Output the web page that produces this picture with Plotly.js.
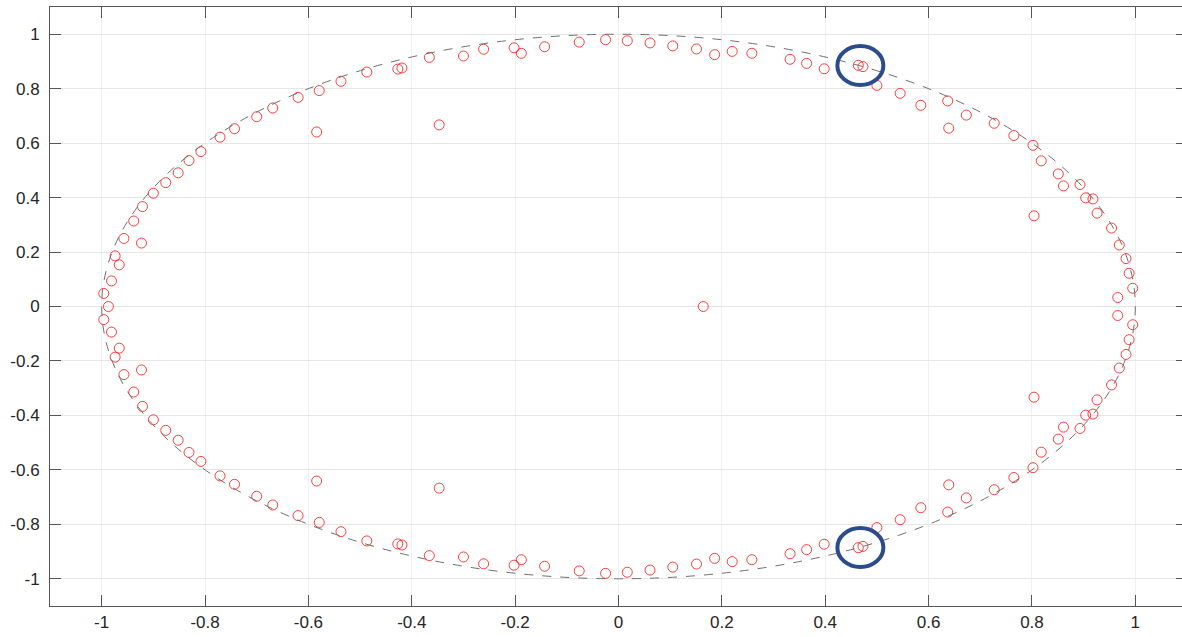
<!DOCTYPE html>
<html>
<head>
<meta charset="utf-8">
<script src="https://cdn.plot.ly/plotly-3.0.1.min.js"></script>
<style>
html, body { margin: 0; padding: 0; overflow: hidden; background: #fff; }
#chart { width: 1200px; height: 637px; }
</style>
</head>
<body>
<div id="chart"></div>
<script>
// Upper half-plane points
const upperX = [-0.996, -0.981, -0.966, -0.974, -0.923, -0.957, -0.938, -0.921, -0.900, -0.876,
  -0.852, -0.831, -0.808, -0.771, -0.743, -0.700, -0.669, -0.620, -0.584, -0.579,
  -0.537, -0.487, -0.427, -0.419, -0.366, -0.347, -0.300, -0.261, -0.202, -0.188,
  -0.143, -0.076, -0.025, 0.017, 0.061, 0.105, 0.151, 0.186, 0.220, 0.258,
  0.332, 0.364, 0.398, 0.464, 0.473, 0.500, 0.545, 0.585, 0.637, 0.639,
  0.673, 0.727, 0.765, 0.802, 0.818, 0.804, 0.851, 0.861, 0.893, 0.904,
  0.918, 0.926, 0.954, 0.969, 0.982, 0.988, 0.995, 0.966];
const upperY = [0.048, 0.094, 0.153, 0.186, 0.233, 0.250, 0.314, 0.367, 0.416, 0.455,
  0.491, 0.536, 0.569, 0.622, 0.653, 0.697, 0.729, 0.768, 0.641, 0.793,
  0.827, 0.861, 0.872, 0.876, 0.915, 0.667, 0.920, 0.945, 0.950, 0.930,
  0.954, 0.971, 0.980, 0.976, 0.968, 0.957, 0.946, 0.925, 0.937, 0.930,
  0.908, 0.893, 0.873, 0.886, 0.881, 0.812, 0.783, 0.739, 0.755, 0.655,
  0.703, 0.673, 0.628, 0.592, 0.535, 0.333, 0.487, 0.443, 0.448, 0.399,
  0.395, 0.343, 0.288, 0.226, 0.176, 0.122, 0.067, 0.033];
// Lower half-plane points
const lowerX = [-0.996, -0.981, -0.966, -0.974, -0.923, -0.957, -0.938, -0.921, -0.900, -0.876,
  -0.852, -0.831, -0.808, -0.771, -0.743, -0.700, -0.669, -0.620, -0.584, -0.579,
  -0.537, -0.487, -0.427, -0.419, -0.366, -0.347, -0.300, -0.261, -0.202, -0.188,
  -0.143, -0.076, -0.025, 0.017, 0.061, 0.105, 0.151, 0.186, 0.220, 0.258,
  0.332, 0.364, 0.398, 0.464, 0.473, 0.500, 0.545, 0.585, 0.637, 0.639,
  0.673, 0.727, 0.765, 0.802, 0.818, 0.804, 0.851, 0.861, 0.893, 0.904,
  0.918, 0.926, 0.954, 0.969, 0.982, 0.988, 0.995, 0.966];
const lowerY = [-0.048, -0.094, -0.153, -0.186, -0.233, -0.250, -0.314, -0.367, -0.416, -0.455,
  -0.491, -0.536, -0.569, -0.622, -0.653, -0.697, -0.729, -0.768, -0.641, -0.793,
  -0.827, -0.861, -0.872, -0.876, -0.915, -0.667, -0.920, -0.945, -0.950, -0.930,
  -0.954, -0.971, -0.980, -0.976, -0.968, -0.957, -0.946, -0.925, -0.937, -0.930,
  -0.908, -0.893, -0.873, -0.886, -0.881, -0.812, -0.783, -0.739, -0.755, -0.655,
  -0.703, -0.673, -0.628, -0.592, -0.535, -0.333, -0.487, -0.443, -0.448, -0.399,
  -0.395, -0.343, -0.288, -0.226, -0.176, -0.122, -0.067, -0.033];
// Real-axis points
const realX = [-0.987, 0.164];
const realY = [0, 0];
// Highlighted pair centres
const markX = [0.468, 0.468];
const markY = [0.885, -0.885];
// Tick labels
const tickVals = [-1, -0.8, -0.6, -0.4, -0.2, 0, 0.2, 0.4, 0.6, 0.8, 1];
const tickText = ['-1', '-0.8', '-0.6', '-0.4', '-0.2', '0', '0.2', '0.4', '0.6', '0.8', '1'];

const markerStyle = {symbol: 'circle-open', size: 10, color: 'rgba(255,0,0,0.75)', line: {width: 1}};
const traces = [
  {x: upperX, y: upperY, type: 'scatter', mode: 'markers', marker: markerStyle, hoverinfo: 'x+y'},
  {x: lowerX, y: lowerY, type: 'scatter', mode: 'markers', marker: markerStyle, hoverinfo: 'x+y'},
  {x: realX, y: realY, type: 'scatter', mode: 'markers', marker: markerStyle, hoverinfo: 'x+y'}
];

const shapes = [
  {type: 'circle', xref: 'x', yref: 'y', x0: -1, x1: 1, y0: -1, y1: 1,
   line: {color: '#707070', width: 1, dash: 'dash'}, layer: 'above'}
];
markX.forEach((mx, i) => {
  shapes.push({type: 'circle', xref: 'x', yref: 'y', xsizemode: 'pixel', ysizemode: 'pixel',
    xanchor: mx, yanchor: markY[i], x0: -23, x1: 23, y0: -19.5, y1: 19.5,
    line: {color: '#2b4b8a', width: 4}, layer: 'above'});
});

const axisCommon = {
  range: [-1.1, 1.1], tickmode: 'array', tickvals: tickVals, ticktext: tickText,
  ticks: 'inside', ticklen: 11, tickcolor: '#555', tickwidth: 1,
  showline: true, linecolor: '#555', linewidth: 1, mirror: 'ticks',
  zeroline: false, showgrid: true,
  tickfont: {family: 'Liberation Sans, Arial, sans-serif', size: 17, color: '#262626'}
};

const layout = {
  width: 1200, height: 637,
  margin: {l: 50, r: 13.3, t: 7, b: 30.6},
  paper_bgcolor: '#ffffff', plot_bgcolor: '#ffffff',
  showlegend: false,
  xaxis: Object.assign({}, axisCommon, {gridcolor: '#f0f0f0', ticklabelstandoff: 1}),
  yaxis: Object.assign({}, axisCommon, {gridcolor: '#e6e6e6', ticklabelstandoff: 6}),
  shapes: shapes
};

Plotly.newPlot('chart', traces, layout, {displayModeBar: false, staticPlot: true});
</script>
</body>
</html>
